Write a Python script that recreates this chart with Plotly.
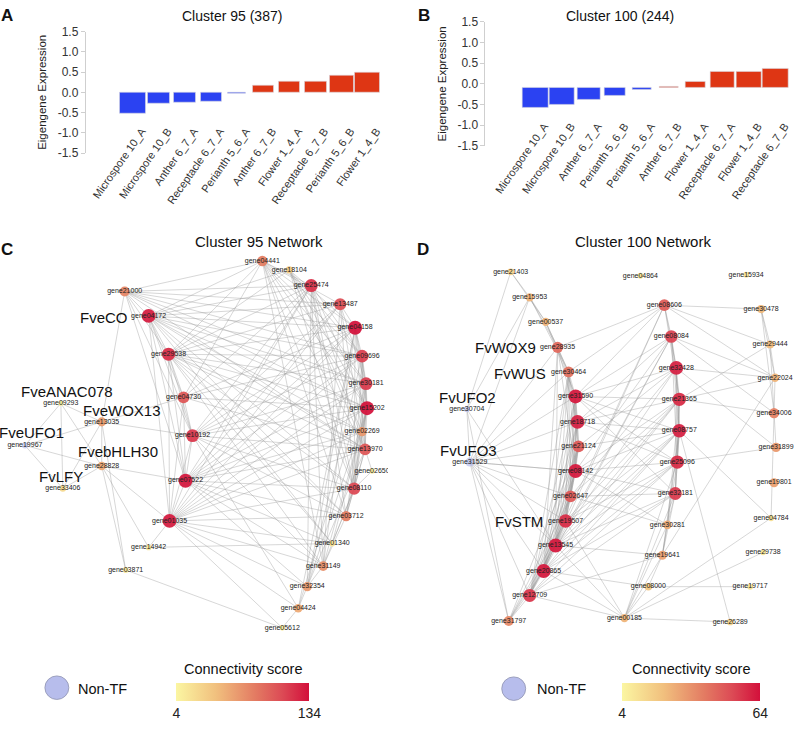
import plotly.graph_objects as go

W, H = 799, 730
FONT = "Liberation Sans, Arial, Helvetica, sans-serif"

# ---------------- Bar chart data ----------------
cats_a = ["Microspore 10_A", "Microspore 10_B", "Anther 6_7_A", "Receptacle 6_7_A", "Perianth 5_6_A",
          "Anther 6_7_B", "Flower 1_4_A", "Receptacle 6_7_B", "Perianth 5_6_B", "Flower 1_4_B"]
vals_a = [-0.53, -0.27, -0.26, -0.23, -0.04, 0.17, 0.26, 0.27, 0.41, 0.48]
base_a = 0.0

cats_b = ["Microspore 10_A", "Microspore 10_B", "Anther 6_7_A", "Perianth 5_6_B", "Perianth 5_6_A",
          "Anther 6_7_B", "Flower 1_4_A", "Receptacle 6_7_A", "Flower 1_4_B", "Receptacle 6_7_B"]
vals_b = [-0.57, -0.50, -0.39, -0.28, -0.15, -0.06, 0.06, 0.29, 0.30, 0.36]
base_b = -0.09

y_tickvals = [-1.5, -1.0, -0.5, 0.0, 0.5, 1.0, 1.5]
y_ticktext = ["-1.5", "-1.0", "-0.5", "0.0", "0.5", "1.0", "1.5"]

# ---------------- Network C data ----------------
# (gene id, layout x, layout y, connectivity score, is_TF)
nodes_c = [
    ("04441", 263, 259, 80, True), ("18104", 290, 268, 36, True), ("25474", 312, 284, 118, True),
    ("21000", 125, 290, 75, True), ("13487", 341, 303, 105, True), ("04172", 149, 315, 128, True),
    ("04158", 356, 327, 132, True), ("29538", 169, 354, 120, True), ("09696", 363, 356, 112, True),
    ("30181", 367, 384, 114, True), ("09293", 61, 404, 8, True), ("04730", 184, 398, 100, True),
    ("13035", 102, 423, 62, True), ("15202", 368, 409, 132, True), ("02269", 363, 433, 65, True),
    ("10192", 193, 437, 115, True), ("19967", 25, 447, 20, False), ("13970", 366, 451, 100, True),
    ("28828", 102, 468, 55, True), ("02650", 373, 473, 12, True), ("33406", 63, 491, 25, True),
    ("07522", 186, 483, 130, True), ("08110", 355, 491, 108, True), ("03712", 347, 519, 80, True),
    ("01035", 170, 524, 128, True), ("01340", 333, 547, 18, True), ("14942", 149, 551, 15, True),
    ("31149", 324, 570, 70, True), ("03871", 126, 574, 15, True), ("32354", 308, 591, 65, True),
    ("04424", 299, 613, 55, True), ("05612", 283, 633, 12, True),
]
edges_c = {
    "04441": ["21000", "04172", "29538", "04730", "25474", "13487", "04158", "09696", "30181", "15202",
              "13970", "08110", "03712", "31149"],
    "18104": ["04172", "29538", "04158", "09696", "30181", "15202", "02269", "13970", "08110"],
    "21000": ["25474", "13487", "04158", "09696", "30181", "15202", "13970", "13035", "04172", "29538",
              "10192", "07522"],
    "25474": ["04172", "29538", "04730", "10192", "07522", "01035", "09696", "15202", "13970", "08110",
              "03712", "31149", "32354"],
    "13487": ["04172", "29538", "10192", "07522", "01035", "04158", "30181", "02269", "08110", "31149"],
    "04172": ["04158", "09696", "30181", "15202", "02269", "13970", "08110", "03712", "29538", "04730",
              "10192", "07522", "01035", "01340"],
    "04158": ["29538", "04730", "10192", "07522", "01035", "09696", "30181", "15202", "13970", "08110",
              "31149", "32354", "04424"],
    "29538": ["09696", "30181", "15202", "02269", "13970", "08110", "03712", "04730", "10192", "07522",
              "01035", "01340", "31149"],
    "09696": ["04730", "10192", "07522", "01035", "30181", "15202", "02269", "13970", "08110", "32354"],
    "30181": ["10192", "07522", "01035", "15202", "13970", "08110", "03712", "04424"],
    "04730": ["15202", "13970", "10192", "07522", "01035", "13035"],
    "15202": ["10192", "07522", "01035", "02269", "13970", "08110", "03712", "01340", "31149", "32354"],
    "02269": ["07522", "01035", "13970", "08110"],
    "10192": ["13970", "08110", "03712", "07522", "01035", "13035", "31149", "04424"],
    "13970": ["07522", "01035", "08110", "02650", "03712", "32354"],
    "07522": ["08110", "03712", "01035", "28828", "01340", "31149", "32354"],
    "08110": ["01035", "03712", "02650", "31149", "01340"],
    "03712": ["01035", "31149"],
    "01035": ["01340", "31149", "32354", "04424", "14942", "05612"],
    "28828": ["19967", "33406", "09293", "01035", "14942", "03871", "13035"],
    "09293": ["19967", "33406", "13035"],
    "19967": ["33406", "13035"],
    "13035": ["33406", "03871"],
    "14942": ["01340"],
    "03871": ["05612"],
    "04424": ["05612", "32354"],
    "32354": ["31149"],
}
tf_names_c = {"04172": "FveCO", "09293": "FveANAC078", "13035": "FveWOX13", "19967": "FveUFO1",
              "28828": "FvebHLH30", "33406": "FvLFY"}
score_range_c = (4, 134)

# ---------------- Network D data ----------------
nodes_d = [
    ("21403", 512, 270, 16, True), ("04864", 642, 274, 10, True), ("15934", 748, 273, 10, True),
    ("15953", 531, 296, 25, True), ("08606", 666, 304, 47, True), ("30478", 763, 308, 24, True),
    ("00537", 547, 321, 25, True), ("08084", 673, 336, 53, True), ("28935", 559, 347, 44, True),
    ("29444", 772, 344, 23, True), ("32428", 678, 368, 60, True), ("30464", 570, 372, 42, True),
    ("22024", 777, 378, 25, True), ("30704", 468, 410, 10, False), ("31590", 577, 397, 62, True),
    ("21365", 681, 400, 58, True), ("34006", 776, 414, 38, True), ("18718", 579, 423, 60, True),
    ("08757", 681, 432, 60, True), ("21124", 580, 448, 48, True), ("31899", 778, 449, 32, True),
    ("31529", 471, 464, 30, False), ("25096", 679, 464, 58, True), ("08142", 577, 473, 62, True),
    ("19801", 776, 485, 30, True), ("32181", 677, 496, 55, True), ("02647", 572, 499, 48, True),
    ("04784", 773, 521, 12, True), ("19507", 567, 524, 58, True), ("30281", 669, 528, 28, True),
    ("13545", 557, 549, 62, True), ("29738", 765, 556, 9, True), ("19641", 664, 559, 30, True),
    ("20865", 545, 575, 62, True), ("08000", 650, 591, 20, True), ("19717", 752, 591, 10, True),
    ("12709", 531, 600, 56, True), ("31797", 510, 626, 36, True), ("00185", 626, 623, 25, True),
    ("26289", 732, 627, 15, True),
]
edges_d = {
    "21403": ["15953", "00537", "30704"],
    "15953": ["00537", "28935", "30464", "30704", "31529"],
    "00537": ["28935", "30464", "31590"],
    "28935": ["30464", "31590", "18718", "08142", "13545", "20865", "31529"],
    "08606": ["30478", "08084", "32428", "21365", "28935", "30464", "31590", "29444", "22024", "13545", "12709"],
    "30478": ["29444", "22024", "34006"],
    "08084": ["32428", "21365", "08757", "25096", "31590", "18718", "08142", "22024", "34006", "20865", "13545"],
    "29444": ["22024", "34006", "21365"],
    "32428": ["21365", "08757", "25096", "32181", "31590", "18718", "21124", "02647", "22024", "13545", "31899"],
    "30464": ["31590", "18718", "21124", "08142", "02647", "19507", "13545", "20865", "12709"],
    "22024": ["34006", "21365", "19641"],
    "31590": ["18718", "21124", "08142", "02647", "19507", "13545", "20865", "12709", "21365", "08757",
              "25096", "32181"],
    "21365": ["08757", "25096", "32181", "30281", "18718", "08142", "02647", "19507", "13545", "20865", "34006"],
    "18718": ["21124", "08142", "02647", "19507", "13545", "20865", "12709", "08757", "25096", "31529"],
    "08757": ["25096", "32181", "30281", "19641", "21124", "08142", "19507", "13545", "20865", "12709", "04784"],
    "21124": ["08142", "02647", "19507", "13545", "20865", "12709", "31797"],
    "25096": ["32181", "19641", "31899", "08142", "19507", "13545", "20865", "12709", "00185"],
    "08142": ["02647", "19507", "13545", "20865", "12709", "31529", "32181", "30281"],
    "32181": ["30281", "19641", "13545", "20865", "12709", "02647", "00185"],
    "02647": ["19507", "13545", "20865", "12709", "30281", "31797"],
    "19507": ["13545", "20865", "12709", "31797", "00185"],
    "13545": ["20865", "12709", "31797", "19641", "00185"],
    "20865": ["12709", "31797", "08000", "00185"],
    "12709": ["31797", "00185", "19641"],
    "31529": ["30704", "31797", "12709", "20865", "13545", "19507", "02647", "21124", "31590", "30464", "08142"],
    "30704": ["31797", "13545"],
    "00185": ["08000", "26289", "04784", "29738", "19641", "30281"],
    "08000": ["19717", "19641"],
    "19641": ["30281"],
    "34006": ["31899", "04784"],
    "26289": ["08757"],
}
tf_names_d = {"28935": "FvWOX9", "30464": "FvWUS", "30704": "FvUFO2", "31529": "FvUFO3", "19507": "FvSTM"}
score_range_d = (4, 64)

# ---------------- styles ----------------
BLUE_BAR = "#2b42f2"
RED_BAR = "#de3614"
NON_TF = "#b7bdec"
EDGE = "rgba(150,150,150,0.55)"
CSCALE = [[0.0, "#fbf6a2"], [0.3, "#f1c07e"], [0.6, "#e37a62"], [0.8, "#dc4a55"], [1.0, "#d3103b"]]
name_offsets = {
    "FveCO": (-45, 2), "FveANAC078": (6, -12), "FveWOX13": (20, -12), "FveUFO1": (7, -13),
    "FvebHLH30": (16, -15), "FvLFY": (-2, -12),
    "FvWOX9": (-52, 0), "FvWUS": (-49, 2), "FvUFO2": (1, -12), "FvUFO3": (-1, -12), "FvSTM": (-47, 1),
}

fig = go.Figure()


def add_bars(cats, vals, base, xa, ya):
    fig.add_trace(go.Bar(
        x=cats, y=[v - base for v in vals], base=base,
        width=[0.68 + 0.6 * abs(v - base) for v in vals],
        marker=dict(color=[RED_BAR if v > base else BLUE_BAR for v in vals],
                    line=dict(color="#d8d8e0", width=0.6)),
        xaxis=xa, yaxis=ya, showlegend=False, hoverinfo="x+y"))


add_bars(cats_a, vals_a, base_a, "x", "y")
add_bars(cats_b, vals_b, base_b, "x2", "y2")


def add_network(nodes, edges, names, srange, xa, ya, cax):
    pos = {n[0]: (n[1], n[2]) for n in nodes}
    ex, ey = [], []
    for a, nbrs in edges.items():
        for b in nbrs:
            ex += [pos[a][0], pos[b][0], None]
            ey += [pos[a][1], pos[b][1], None]
    fig.add_trace(go.Scatter(x=ex, y=ey, mode="lines", line=dict(color=EDGE, width=0.7),
                             xaxis=xa, yaxis=ya, hoverinfo="skip", showlegend=False))
    lo, hi = srange
    smax = max(n[3] for n in nodes)
    sizes = [5 + 9 * (n[3] - lo) / (smax - lo) for n in nodes]
    tf = [i for i, n in enumerate(nodes) if n[4]]
    ntf = [i for i, n in enumerate(nodes) if not n[4]]
    fig.add_trace(go.Scatter(
        x=[nodes[i][1] for i in tf], y=[nodes[i][2] for i in tf], mode="markers+text",
        text=["gene" + nodes[i][0] for i in tf], textposition="middle center",
        textfont=dict(size=7, color="#222", family=FONT),
        marker=dict(size=[sizes[i] for i in tf], color=[nodes[i][3] for i in tf], coloraxis=cax,
                    line=dict(width=0), opacity=0.95),
        xaxis=xa, yaxis=ya, showlegend=False, hovertext=[str(nodes[i][3]) for i in tf]))
    fig.add_trace(go.Scatter(
        x=[nodes[i][1] for i in ntf], y=[nodes[i][2] for i in ntf], mode="markers+text",
        text=["gene" + nodes[i][0] for i in ntf], textposition="middle center",
        textfont=dict(size=7, color="#222", family=FONT),
        marker=dict(size=[sizes[i] for i in ntf], color=NON_TF, line=dict(width=0)),
        xaxis=xa, yaxis=ya, showlegend=False))
    for gid, name in names.items():
        dx, dy = name_offsets[name]
        fig.add_annotation(x=pos[gid][0] + dx, y=pos[gid][1] + dy, xref=xa, yref=ya, text=name,
                           showarrow=False, font=dict(size=15, color="#111", family=FONT))


add_network(nodes_c, edges_c, tf_names_c, score_range_c, "x3", "y3", "coloraxis")
add_network(nodes_d, edges_d, tf_names_d, score_range_d, "x4", "y4", "coloraxis2")


def px(x):
    return x / W


def py(y):
    return 1 - y / H


hidden = dict(visible=False, showgrid=False, zeroline=False)
bar_y_common = dict(range=[-1.5, 1.5], tickvals=y_tickvals, ticktext=y_ticktext, showgrid=False,
                    zeroline=False, showline=True, linecolor="#cfcfcf", linewidth=1, ticks="outside",
                    ticklen=4, tickcolor="#cfcfcf", tickfont=dict(size=12, color="#333"),
                    title=dict(text="Eigengene Expression", font=dict(size=11.5, color="#222"), standoff=8))
bar_x_common = dict(type="category", tickangle=-55, tickfont=dict(size=11, color="#333"), showgrid=False,
                    zeroline=False, showline=False, ticks="", anchor="free", ticklabelshift=9)

colorbar_common = dict(orientation="h", thickness=18, outlinewidth=0, ticks="", xanchor="center",
                       yanchor="top", lenmode="pixels", tickfont=dict(size=14, color="#222"),
                       xpad=0, ypad=0)

fig.update_layout(
    width=W, height=H, margin=dict(l=0, r=0, t=0, b=0),
    paper_bgcolor="white", plot_bgcolor="rgba(0,0,0,0)",
    font=dict(family=FONT, color="#222"),
    bargap=0,
    xaxis=dict(domain=[px(86), px(381.5)], range=[-1.8, 9.5], position=py(117), **bar_x_common),
    yaxis=dict(domain=[py(149), py(25)], anchor="x", **bar_y_common),
    xaxis2=dict(domain=[px(486.7), px(791)], range=[-1.86, 9.5], position=py(112), **bar_x_common),
    yaxis2=dict(domain=[py(141.7), py(15)], anchor="x2", **bar_y_common),
    xaxis3=dict(domain=[0, px(389)], range=[0, 389], anchor="y3", **hidden),
    yaxis3=dict(domain=[0, 1], range=[H, 0], anchor="x3", **hidden),
    xaxis4=dict(domain=[px(400), 1], range=[400, W], anchor="y4", **hidden),
    yaxis4=dict(domain=[0, 1], range=[H, 0], anchor="x4", **hidden),
    coloraxis=dict(colorscale=CSCALE, cmin=score_range_c[0], cmax=score_range_c[1],
                   colorbar=dict(x=px(243.5), y=py(689), len=133, tickvals=list(score_range_c),
                                 **colorbar_common)),
    coloraxis2=dict(colorscale=CSCALE, cmin=score_range_d[0], cmax=score_range_d[1],
                    colorbar=dict(x=px(693), y=py(689), len=138, tickvals=list(score_range_d),
                                  **colorbar_common)),
)

annots = [
    ("A", 7, 9, 17, True), ("B", 425, 9, 17, True), ("C", 7, 247, 17, True), ("D", 424, 247, 17, True),
    ("Cluster 95 (387)", 233, 9, 14, False), ("Cluster 100 (244)", 622, 9, 14, False),
    ("Cluster 95 Network", 260, 239, 15, False), ("Cluster 100 Network", 645, 239, 15, False),
    ("Non-TF", 103, 695, 14.5, False), ("Non-TF", 563, 695, 14.5, False),
    ("Connectivity score", 244, 675, 14.5, False), ("Connectivity score", 693, 675, 14.5, False),
]
for text, x, y, size, bold in annots:
    fig.add_annotation(x=px(x), y=py(y), xref="paper", yref="paper", text=f"<b>{text}</b>" if bold else text,
                       showarrow=False, font=dict(size=size, color="#111"), xanchor="center", yanchor="middle")

for cx, cy in [(57, 694), (515, 695)]:
    fig.add_shape(type="circle", xref="paper", yref="paper", x0=px(cx - 12), x1=px(cx + 12),
                  y0=py(cy + 12), y1=py(cy - 12), fillcolor=NON_TF, line=dict(color="#8f93b0", width=0.8))

fig.write_html("out.html", config={"displayModeBar": False},
               post_script="document.body.style.margin='0px';document.body.style.overflow='hidden';")
